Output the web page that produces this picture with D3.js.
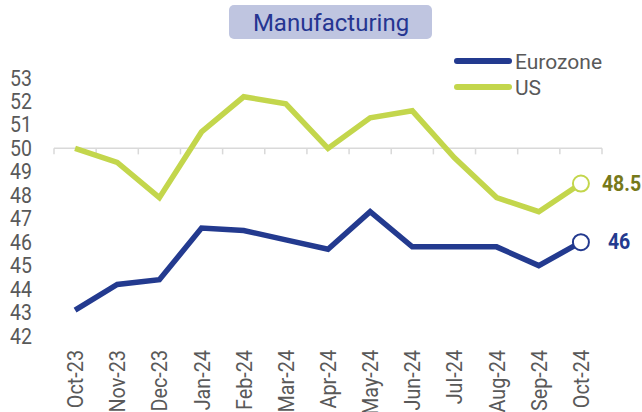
<!DOCTYPE html>
<html>
<head>
<meta charset="utf-8">
<script src="https://cdn.jsdelivr.net/npm/d3@7"></script>
<style>
  body { margin: 0; background: #fff; }
  svg { display: block; font-family: Roboto, "Liberation Sans", sans-serif; }
</style>
</head>
<body>
<div id="chart"></div>
<script>
const months = ["Oct-23", "Nov-23", "Dec-23", "Jan-24", "Feb-24", "Mar-24", "Apr-24",
  "May-24", "Jun-24", "Jul-24", "Aug-24", "Sep-24", "Oct-24"];
const eurozone = [43.1, 44.2, 44.4, 46.6, 46.5, 46.1, 45.7, 47.3, 45.8, 45.8, 45.8, 45.0, 46.0];
const us = [50.0, 49.4, 47.9, 50.7, 52.2, 51.9, 50.0, 51.3, 51.6, 49.6, 47.9, 47.3, 48.5];
const yTicks = [42, 43, 44, 45, 46, 47, 48, 49, 50, 51, 52, 53];

const width = 642, height = 412;
const colEZ = "#233a8f", colUS = "#c3d64c";
// axis text looks a bit stretched along the glyph height
const sy = 1.1;

const svg = d3.select("#chart")
  .append("svg")
  .attr("width", width)
  .attr("height", height);

const x = d3.scaleBand().domain(months).range([54, 602]);
const y = d3.scaleLinear().domain([42, 53]).range([336, 78]);

// title box
svg.append("rect")
  .attr("x", 229).attr("y", 5).attr("width", 203).attr("height", 34)
  .attr("rx", 5)
  .attr("fill", "#bfc5e0");
svg.append("text")
  .attr("x", 331).attr("y", 31)
  .attr("text-anchor", "middle")
  .attr("font-size", 24)
  .attr("fill", "#253591")
  .text("Manufacturing");

// y axis labels
svg.selectAll(".ylab")
  .data(yTicks)
  .enter()
  .append("text")
  .attr("class", "ylab")
  .attr("transform", d => `translate(10,${y(d) + 7.5}) scale(1,${sy})`)
  .attr("font-size", 19.5)
  .attr("fill", "#595959")
  .text(d => d);

// x axis sitting on 50
const xAxis = svg.append("g")
  .attr("transform", `translate(0,${y(50)})`);
xAxis.append("line")
  .attr("x1", x.range()[0]).attr("x2", x.range()[1])
  .attr("stroke", "#d9d9d9").attr("stroke-width", 1.5);
const bounds = months.map(m => x(m)).concat([x.range()[1]]);
xAxis.selectAll(".tk")
  .data(bounds)
  .enter()
  .append("line")
  .attr("x1", d => d).attr("x2", d => d)
  .attr("y1", 0).attr("y2", 6)
  .attr("stroke", "#d9d9d9").attr("stroke-width", 1.5);

// month labels, rotated
svg.selectAll(".xlab")
  .data(months)
  .enter()
  .append("text")
  .attr("class", "xlab")
  .attr("transform", d => `translate(${x(d) + x.bandwidth() / 2 + 8},350) scale(${sy},1) rotate(-90)`)
  .attr("text-anchor", "end")
  .attr("font-size", 19.8)
  .attr("fill", "#595959")
  .text(d => d);

const line = d3.line()
  .x((d, i) => x(months[i]) + x.bandwidth() / 2)
  .y(d => y(d));

const series = [
  { name: "Eurozone", values: eurozone, color: colEZ, labelColor: colEZ, dx: 27 },
  { name: "US", values: us, color: colUS, labelColor: "#76791a", dx: 21 }
];

series.forEach(s => {
  svg.append("path")
    .datum(s.values)
    .attr("d", line)
    .attr("fill", "none")
    .attr("stroke", s.color)
    .attr("stroke-width", 5.5)
    .attr("stroke-linejoin", "miter");
  const last = s.values.length - 1;
  const cx = x(months[last]) + x.bandwidth() / 2;
  const cy = y(s.values[last]);
  svg.append("circle")
    .attr("cx", cx).attr("cy", cy).attr("r", 8)
    .attr("fill", "#fff")
    .attr("stroke", s.color)
    .attr("stroke-width", 2);
  svg.append("text")
    .attr("transform", `translate(${cx + s.dx},${cy + 7}) scale(1,${sy})`)
    .attr("font-size", 19.5)
    .attr("font-weight", "bold")
    .attr("fill", s.labelColor)
    .text(s.values[last]);
});

// legend
const legend = svg.selectAll(".leg")
  .data(series)
  .enter()
  .append("g")
  .attr("transform", (d, i) => `translate(457,${61 + i * 26})`);
legend.append("line")
  .attr("x1", 0).attr("x2", 52)
  .attr("stroke", d => d.color)
  .attr("stroke-width", 6)
  .attr("stroke-linecap", "round");
legend.append("text")
  .attr("x", 58)
  .attr("y", 7.5)
  .attr("font-size", 21)
  .attr("fill", "#595959")
  .text(d => d.name);
</script>
</body>
</html>
